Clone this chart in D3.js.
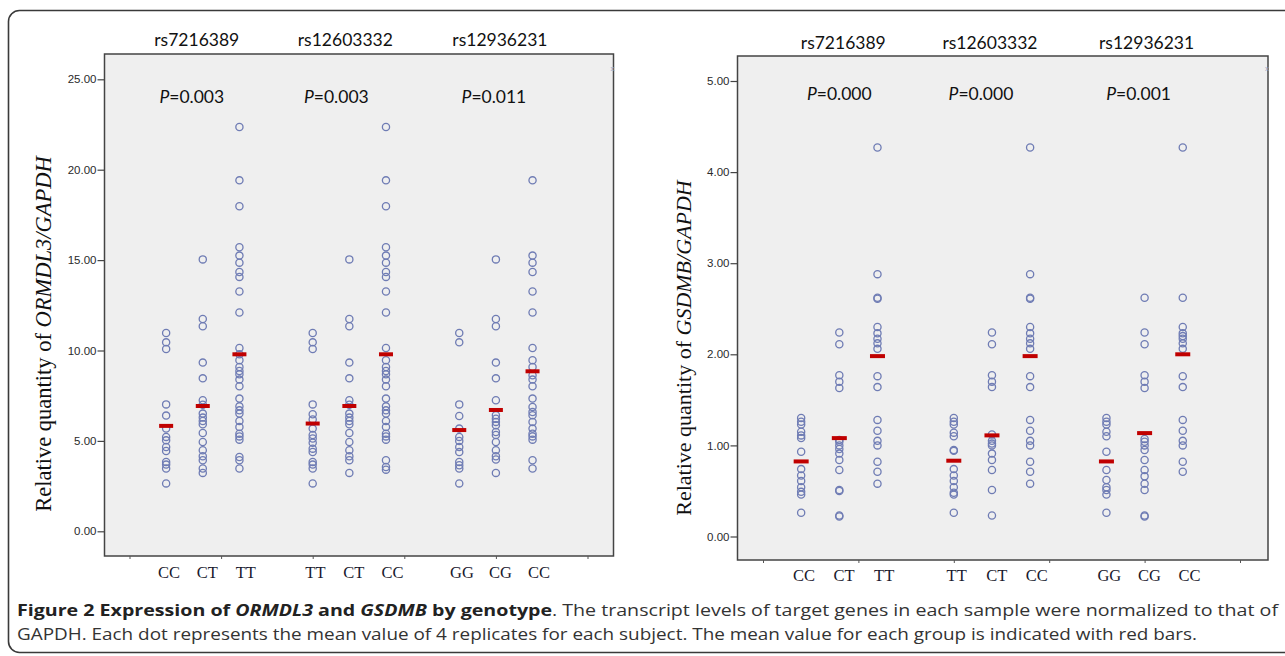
<!DOCTYPE html>
<html>
<head>
<meta charset="utf-8">
<script src="https://cdn.jsdelivr.net/npm/d3@7"></script>
<style>
  html, body { margin: 0; padding: 0; background: #fff; }
  svg { display: block; }
</style>
</head>
<body>
<svg id="chart" width="1285" height="656"></svg>
<script>
// ---------------- DATA ----------------
const snps = ["rs7216389", "rs12603332", "rs12936231"];
const genotypes = [["CC", "CT", "TT"], ["TT", "CT", "CC"], ["GG", "CG", "CC"]];
const ormdlPValues = ["0.003", "0.003", "0.011"];
const gsdmbPValues = ["0.000", "0.000", "0.001"];
const ormdlTicks = [0, 5, 10, 15, 20, 25];
const gsdmbTicks = [0, 1, 2, 3, 4, 5];
const xTicks = [0, 1, 2, 3, 4, 5];

// ORMDL3/GAPDH per subject, grouped by genotype
const ormdlRs7216389 = [
  [10.97, 10.45, 10.08, 7.02, 6.40, 5.68, 5.22, 5.03, 4.66, 4.44, 3.83, 3.69, 3.47, 2.65],
  [15.04, 11.74, 11.34, 9.33, 8.46, 7.25, 7.00, 6.51, 6.29, 6.10, 5.92, 5.44, 4.94, 4.48, 4.15, 3.93, 3.47, 3.23],
  [22.36, 19.41, 17.98, 15.71, 15.25, 14.86, 14.34, 14.07, 13.26, 12.10, 10.14, 9.79, 9.46, 9.09, 8.87, 8.68, 8.39, 8.02, 7.34, 6.91, 6.69, 6.51, 6.10, 5.77, 5.40, 5.25, 5.07, 4.11, 3.93, 3.47]
];
const ormdlRs12603332 = [
  [10.97, 10.45, 10.08, 7.02, 6.47, 6.18, 5.68, 5.33, 5.13, 4.90, 4.57, 4.39, 3.83, 3.69, 3.47, 2.65],
  [15.04, 11.74, 11.34, 9.33, 8.46, 7.25, 7.00, 6.51, 6.29, 6.10, 5.92, 5.44, 4.94, 4.48, 4.15, 3.93, 3.23],
  [22.36, 19.41, 17.98, 15.71, 15.25, 14.86, 14.34, 14.07, 13.26, 12.10, 10.14, 9.46, 9.09, 8.87, 8.68, 8.39, 8.02, 7.34, 6.91, 6.69, 6.51, 6.10, 5.77, 5.40, 5.25, 5.07, 3.93, 3.56, 3.41]
];
const ormdlRs12936231 = [
  [10.97, 10.45, 7.02, 6.38, 5.68, 5.22, 5.00, 4.66, 4.38, 3.83, 3.65, 3.47, 2.65],
  [15.04, 11.74, 11.34, 9.33, 8.46, 7.25, 6.42, 6.23, 6.05, 5.86, 5.49, 5.33, 4.94, 4.48, 4.15, 3.97, 3.23],
  [19.41, 15.25, 14.86, 14.34, 13.26, 12.10, 10.14, 9.46, 9.09, 8.63, 8.39, 8.02, 7.34, 6.88, 6.60, 6.42, 6.05, 5.68, 5.40, 5.25, 5.07, 3.93, 3.47]
];
const ormdlMeans = [[5.83, 6.93, 9.79], [5.96, 6.93, 9.79], [5.60, 6.71, 8.85]];

// GSDMB/GAPDH per subject, grouped by genotype
const gsdmbRs7216389 = [
  [1.30, 1.26, 1.23, 1.15, 1.11, 1.08, 0.93, 0.74, 0.67, 0.61, 0.54, 0.49, 0.46, 0.26],
  [2.24, 2.11, 1.77, 1.70, 1.63, 1.06, 1.04, 1.00, 0.96, 0.91, 0.84, 0.73, 0.51, 0.50, 0.23, 0.22],
  [4.27, 2.88, 2.62, 2.61, 2.30, 2.23, 2.17, 2.12, 2.06, 1.76, 1.64, 1.28, 1.16, 1.05, 1.00, 0.82, 0.71, 0.58]
];
const gsdmbRs12603332 = [
  [1.30, 1.26, 1.23, 1.14, 1.10, 0.95, 0.94, 0.74, 0.67, 0.61, 0.54, 0.48, 0.46, 0.26],
  [2.24, 2.11, 1.77, 1.70, 1.64, 1.12, 1.05, 1.02, 1.00, 0.91, 0.84, 0.73, 0.51, 0.23],
  [4.27, 2.88, 2.62, 2.61, 2.30, 2.23, 2.17, 2.12, 2.06, 1.76, 1.64, 1.28, 1.16, 1.05, 1.00, 0.82, 0.71, 0.58]
];
const gsdmbRs12936231 = [
  [1.30, 1.26, 1.23, 1.15, 1.10, 0.93, 0.73, 0.62, 0.54, 0.51, 0.46, 0.26],
  [2.62, 2.24, 2.11, 1.77, 1.70, 1.63, 1.07, 1.04, 1.00, 0.95, 0.84, 0.73, 0.66, 0.58, 0.51, 0.23, 0.22],
  [4.27, 2.62, 2.30, 2.23, 2.20, 2.17, 2.12, 2.06, 1.76, 1.64, 1.28, 1.16, 1.05, 1.00, 0.82, 0.71]
];
const gsdmbMeans = [[0.824, 1.08, 1.98], [0.832, 1.11, 1.98], [0.824, 1.135, 2.00]];

// ---------------- DRAW ----------------
const svg = d3.select("#chart");

// outer rounded frame
svg.append("rect")
  .attr("x", 8.5).attr("y", 10.5).attr("width", 1300).attr("height", 642)
  .attr("rx", 11).attr("ry", 11)
  .attr("fill", "#fff").attr("stroke", "#3a3a3a").attr("stroke-width", 1.6);

const panels = [
  {
    frame: { x0: 104.5, x1: 613.5, y0: 54, y1: 556 },
    x: d3.scaleLinear().domain([0, 5]).range([129.5, 587.5]),
    y: d3.scaleLinear().domain([0, 25]).range([531.3, 79.3]),
    ticks: ormdlTicks,
    data: [ormdlRs7216389, ormdlRs12603332, ormdlRs12936231],
    means: ormdlMeans,
    pvals: ormdlPValues,
    gene: "ORMDL3",
    yLabel: { x: 43, y: 334, size: 22.5 },
    rsY: 40, pY: 97,
    rsDx: [-6, -4, 4], pDx: [-11, -13, -2],
    catY: 578, barW: 14
  },
  {
    frame: { x0: 737.5, x1: 1268, y0: 56, y1: 560 },
    x: d3.scaleLinear().domain([0, 5]).range([763, 1240]),
    y: d3.scaleLinear().domain([0, 5]).range([536.5, 81]),
    ticks: gsdmbTicks,
    data: [gsdmbRs7216389, gsdmbRs12603332, gsdmbRs12936231],
    means: gsdmbMeans,
    pvals: gsdmbPValues,
    gene: "GSDMB",
    yLabel: { x: 683, y: 348, size: 22 },
    rsY: 43, pY: 94,
    rsDx: [4, -2, 2], pDx: [0, -11, -6],
    catY: 581, barW: 15
  }
];

panels.forEach(p => {
  const g = svg.append("g");
  const f = p.frame;

  // plot background + frame
  g.append("rect")
    .attr("x", f.x0).attr("y", f.y0)
    .attr("width", f.x1 - f.x0).attr("height", f.y1 - f.y0)
    .attr("fill", "#efefef").attr("stroke", "#444").attr("stroke-width", 1.5);

  // y axis
  const yAxis = d3.axisLeft(p.y).tickValues(p.ticks).tickFormat(d3.format(".2f")).tickSize(7).tickPadding(1);
  const ya = g.append("g").attr("transform", `translate(${f.x0},0)`).call(yAxis);
  ya.select(".domain").remove();
  ya.selectAll(".tick line").attr("stroke", "#444").attr("stroke-width", 1.2);
  ya.selectAll(".tick text")
    .attr("font-family", "Liberation Sans, Arial, sans-serif")
    .attr("font-size", 11.5).attr("fill", "#2a2a2a");

  // x axis (ticks only)
  const xAxis = d3.axisBottom(p.x).tickValues(xTicks).tickFormat("").tickSize(3);
  const xa = g.append("g").attr("transform", `translate(0,${f.y1})`).call(xAxis);
  xa.select(".domain").remove();
  xa.selectAll(".tick line").attr("stroke", "#555").attr("stroke-width", 1);

  // points and means
  p.data.forEach((snpGroups, si) => {
    snpGroups.forEach((vals, gi) => {
      const pos = si * 1.6 + 0.4 + gi * 0.4;
      const cx = p.x(pos);
      g.append("g").selectAll("circle")
        .data(vals).join("circle")
        .attr("cx", cx).attr("cy", d => p.y(d)).attr("r", 3.6)
        .attr("fill", "none").attr("stroke", "#6f7cb4").attr("stroke-width", 1.3);
    });
    p.means[si].forEach((m, gi) => {
      const pos = si * 1.6 + 0.4 + gi * 0.4;
      g.append("rect")
        .attr("x", p.x(pos) - p.barW / 2).attr("y", p.y(m) - 2)
        .attr("width", p.barW).attr("height", 4)
        .attr("fill", "#c00000");
    });

    const mid = p.x(si * 1.6 + 0.8);
    // SNP label
    g.append("text")
      .attr("x", mid + p.rsDx[si]).attr("y", p.rsY).attr("dy", "0.35em")
      .attr("text-anchor", "middle")
      .attr("font-family", "Lato, 'Open Sans', sans-serif").attr("font-size", 17.5)
      .attr("fill", "#111").text(snps[si]);
    // P value
    const pt = g.append("text")
      .attr("x", mid + p.pDx[si]).attr("y", p.pY).attr("dy", "0.35em")
      .attr("text-anchor", "middle")
      .attr("font-family", "Lato, 'Open Sans', sans-serif").attr("font-size", 17.5)
      .attr("fill", "#111");
    pt.append("tspan").attr("font-style", "italic").text("P");
    pt.append("tspan").text("=" + p.pvals[si]);

    // genotype labels
    genotypes[si].forEach((lab, gi) => {
      g.append("text")
        .attr("x", p.x(si * 1.6 + 0.43 + gi * 0.42)).attr("y", p.catY)
        .attr("text-anchor", "middle")
        .attr("font-family", "Liberation Serif, 'Times New Roman', serif").attr("font-size", 16.5)
        .attr("fill", "#1a1a2e").text(lab);
    });
  });

  // y axis title
  const yt = g.append("text")
    .attr("transform", `translate(${p.yLabel.x},${p.yLabel.y}) rotate(-90)`)
    .attr("text-anchor", "middle").attr("dy", "0.35em")
    .attr("font-family", "Liberation Serif, 'Times New Roman', serif").attr("font-size", p.yLabel.size)
    .attr("fill", "#111");
  yt.append("tspan").text("Relative quantity of ");
  yt.append("tspan").attr("font-style", "italic").text(p.gene + "/GAPDH");

  // small marker glyph near the right edge of the frame
  g.append("text")
    .attr("x", f.x1 - 1).attr("y", 71).attr("text-anchor", "middle")
    .attr("font-family", "Liberation Sans, sans-serif").attr("font-size", 8)
    .attr("fill", "#9aa0c0").text("x");
});

// ---------------- CAPTION ----------------
const capFont = "'Liberation Sans Narrow', 'Open Sans', 'Liberation Sans', sans-serif";
const c1 = svg.append("text")
  .attr("x", 17).attr("y", 616)
  .attr("font-family", capFont).attr("font-size", 16).attr("fill", "#333")
  .attr("textLength", 1261).attr("lengthAdjust", "spacingAndGlyphs");
c1.append("tspan").attr("font-weight", "bold").attr("fill", "#222").text("Figure 2 Expression of ");
c1.append("tspan").attr("font-weight", "bold").attr("font-style", "italic").attr("fill", "#222").text("ORMDL3");
c1.append("tspan").attr("font-weight", "bold").attr("fill", "#222").text(" and ");
c1.append("tspan").attr("font-weight", "bold").attr("font-style", "italic").attr("fill", "#222").text("GSDMB");
c1.append("tspan").attr("font-weight", "bold").attr("fill", "#222").text(" by genotype");
c1.append("tspan").text(". The transcript levels of target genes in each sample were normalized to that of");

svg.append("text")
  .attr("x", 17).attr("y", 640)
  .attr("font-family", capFont).attr("font-size", 16).attr("fill", "#333")
  .attr("textLength", 1180).attr("lengthAdjust", "spacingAndGlyphs")
  .text("GAPDH. Each dot represents the mean value of 4 replicates for each subject. The mean value for each group is indicated with red bars.");
</script>
</body>
</html>
